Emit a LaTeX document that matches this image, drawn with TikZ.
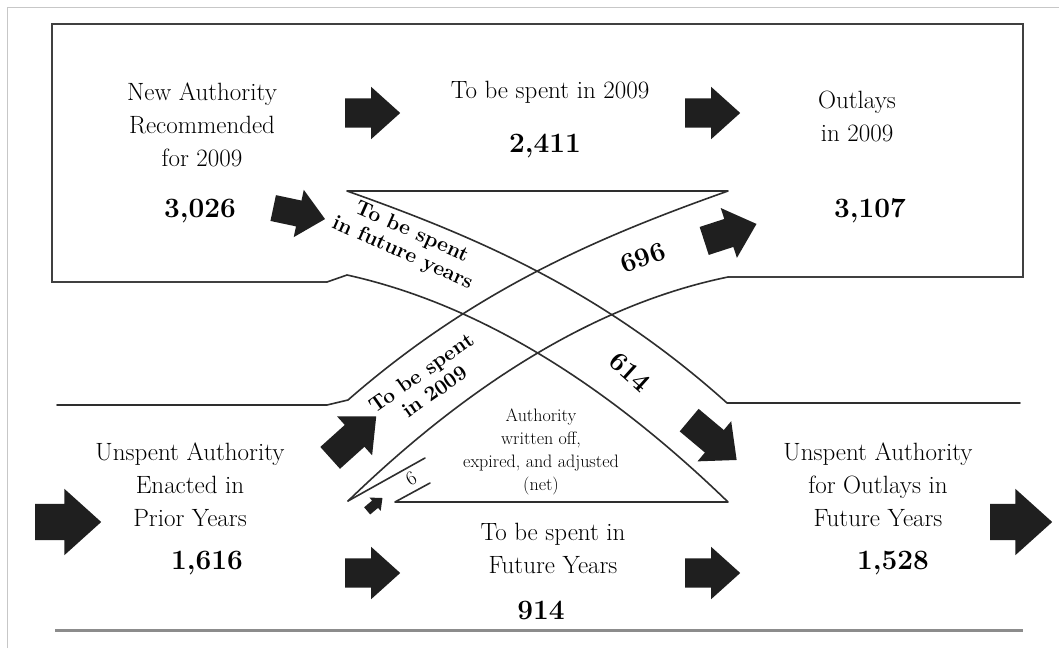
\documentclass[tikz,border=0pt]{standalone}
\usepackage{fontspec}
\usetikzlibrary{shapes.arrows}
\newcommand\txtfont{\fontsize{25}{33}\selectfont}
\newcommand\numfont{\fontsize{28}{32}\selectfont\bfseries}
\newcommand\bandfont{\fontsize{21}{23}\selectfont\bfseries}
\newcommand\bnumfont{\fontsize{27}{30}\selectfont\bfseries}
\newcommand\notefont{\fontsize{18}{23}\selectfont}
\begin{document}
\begin{tikzpicture}[x=1pt,y=-1pt,
  txt/.style={font=\txtfont, align=center, inner sep=0pt, text=black},
  num/.style={font=\numfont, inner sep=0pt, text=black},
  band/.style={font=\bandfont, align=center, inner sep=0pt, text=black},
  bnum/.style={font=\bnumfont, inner sep=0pt, text=black},
  note/.style={font=\notefont, align=center, inner sep=0pt, text=black},
  ln/.style={draw=black!82, line width=1.6pt, line join=round, line cap=round},
  boxln/.style={draw=black!75, line width=2pt, line join=miter},
  barrow/.style={single arrow, anchor=tail, fill=black!88, draw=none, inner xsep=0pt, inner ysep=14.5pt,
    single arrow head extend=11.5pt, single arrow tip angle=84,
    single arrow head indent=0pt, minimum height=55pt, minimum width=0pt}
]
\useasboundingbox (0,0) rectangle (1059,648);
\fill[white] (0,0) rectangle (1059,648);
% outer light frame
\draw[black!22, line width=1pt] (7,648) -- (7,7) -- (1059,7);

% key points
\coordinate (topL) at (347,191);
\coordinate (topR) at (728,191);
\coordinate (apex) at (348,501);
\coordinate (triR) at (728,502);
\coordinate (baseL) at (395,502);

% top box
\draw[boxln] (728,277) -- (1023,277) -- (1023,24) -- (52,24) -- (52,282) -- (327,282);
% band "future years": lower edge, triangle base, wedge
\draw[ln] (327,282) -- (347,275) .. controls (474,303) and (601,379) .. (triR) -- (baseL) -- (430,483);
% lower-left line, band 2009 upper edge, top horizontal, band future upper edge, lower-right line
\draw[ln] (57,405) -- (327,405) -- (348,400) .. controls (475,289) and (601,236) .. (topR) -- (topL)
  .. controls (474,236) and (600,289) .. (727,403) -- (1020,403);
% band 2009 lower edge
\draw[ln] (apex) .. controls (474,379) and (601,303) .. (728,277);
% wedge upper line
\draw[ln] (apex) -- (425,458);
% bottom rule
\draw[black!45, line width=3pt] (55,630) -- (1023,630);

% texts
\node[txt] (na) at (202,125) {New Authority\\Recommended\\for 2009};
\node[num] (n3026) at (200,211) {3,026};
\node[txt] (tbs) at (550,92) {To be spent in 2009};
\node[num] (n2411) at (545,146) {2,411};
\node[txt] (out) at (857,116) {Outlays\\in 2009};
\node[num] (n3107) at (870,211) {3,107};
\node[txt] (ua) at (190,485) {Unspent Authority\\Enacted in\\Prior Years};
\node[num] (n1616) at (207,563) {1,616};
\node[txt] (tbf) at (553,548) {To be spent in\\Future Years};
\node[num] (n914) at (541,610) {914};
\node[txt] (uf) at (878,485) {Unspent Authority\\for Outlays in\\Future Years};
\node[num] (n1528) at (893,563) {1,528};

% band labels
\node[band, rotate=-24] (lfut) at (407,243) {To be spent\\in future years};
\node[band, rotate=35] (l2009) at (428,382) {To be spent\\in 2009};
\node[bnum, rotate=20] (l696) at (643,258) {696};
\node[bnum, rotate=-42] (l614) at (630,372) {614};
\node[note] (wo) at (541,452) {Authority\\written off,\\expired, and adjusted\\(net)};
\node[note, font=\fontsize{20}{22}\selectfont, rotate=30] (l6) at (411,479) {6};

% block arrows (placed by their tails)
\node[barrow] (a1) at (345,113) {};
\node[barrow] (a2) at (685,113) {};
\node[barrow, rotate=-12, minimum height=53pt, inner ysep=13pt, single arrow head extend=11pt] (a3) at (273,208) {};
\node[barrow, rotate=18, minimum height=55pt] (a4) at (704,241) {};
\node[barrow, rotate=42, minimum height=62pt] (a5) at (330,458) {};
\node[barrow, rotate=-40, minimum height=62pt] (a6) at (689,420) {};
\node[barrow, minimum height=66pt, inner ysep=18pt, single arrow head extend=15pt] (a7) at (35,522) {};
\node[barrow, minimum height=62pt, inner ysep=18pt, single arrow head extend=15pt] (a8) at (990,522) {};
\node[barrow] (a9) at (345,573) {};
\node[barrow] (a10) at (685,573) {};
\node[barrow, rotate=40, minimum height=20pt, inner ysep=4.5pt, single arrow head extend=4pt] (a11) at (367,511) {};
\end{tikzpicture}
\end{document}
